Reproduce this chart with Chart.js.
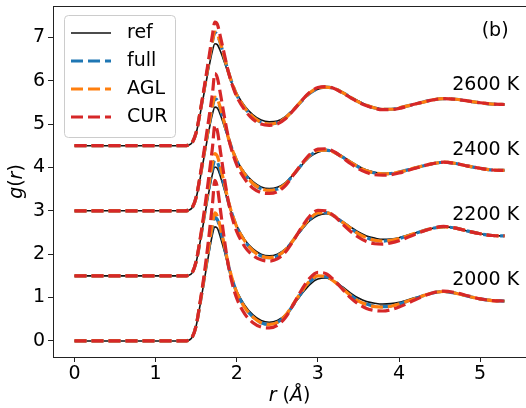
<!DOCTYPE html>
<html>
<head>
<meta charset="utf-8">
<script src="https://cdn.jsdelivr.net/npm/chart.js@4.4.1/dist/chart.umd.min.js"></script>
<style>
  html, body { margin: 0; padding: 0; background: #fff; }
  canvas { display: block; }
</style>
</head>
<body>
<canvas id="rdfChart" width="526" height="408"></canvas>
<script>
// radial grid (Angstrom), finer around the first peak
const rGrid = [0, 1.0, 1.35, 1.4, 1.45, 1.5, 1.55, 1.6, 1.65, 1.7, 1.73, 1.76, 1.8, 1.85, 1.9, 1.95, 2.0,
    2.1, 2.2, 2.3, 2.4, 2.5, 2.6, 2.7, 2.8, 2.9, 3.0, 3.1, 3.2, 3.3, 3.4, 3.5, 3.6, 3.7, 3.8, 3.9, 4.0,
    4.2, 4.4, 4.55, 4.7, 4.85, 5.0, 5.15, 5.3];

// g(r) at 2000 K
const ref2000 = [0, 0, 0, 0.01, 0.08, 0.35, 0.85, 1.4, 1.95, 2.45, 2.63, 2.6, 2.38, 2.05, 1.68, 1.38, 1.15, 0.82, 0.6, 0.47, 0.43, 0.47, 0.6, 0.83, 1.08, 1.3, 1.43, 1.45, 1.38, 1.25, 1.11, 0.99, 0.91, 0.87, 0.85, 0.86, 0.89, 1.0, 1.1, 1.14, 1.1, 1.03, 0.97, 0.93, 0.92];
const full2000 = [0, 0, 0, 0.01, 0.08, 0.36, 0.88, 1.45, 2.05, 2.62, 2.85, 2.8, 2.55, 2.15, 1.72, 1.38, 1.12, 0.77, 0.55, 0.42, 0.38, 0.43, 0.58, 0.84, 1.12, 1.36, 1.49, 1.48, 1.38, 1.22, 1.06, 0.93, 0.85, 0.8, 0.79, 0.81, 0.85, 0.98, 1.1, 1.14, 1.1, 1.03, 0.97, 0.93, 0.92];
const agl2000 = [0, 0, 0, 0.01, 0.08, 0.36, 0.9, 1.48, 2.1, 2.7, 2.95, 2.88, 2.6, 2.18, 1.74, 1.39, 1.12, 0.77, 0.55, 0.42, 0.38, 0.43, 0.59, 0.86, 1.14, 1.38, 1.5, 1.48, 1.37, 1.21, 1.05, 0.92, 0.84, 0.79, 0.78, 0.8, 0.85, 0.98, 1.1, 1.14, 1.1, 1.03, 0.97, 0.93, 0.92];
const cur2000 = [0, 0, 0, 0.01, 0.08, 0.36, 0.92, 1.55, 2.3, 3.15, 3.7, 3.55, 3.0, 2.3, 1.7, 1.28, 0.98, 0.62, 0.42, 0.32, 0.3, 0.36, 0.54, 0.85, 1.18, 1.45, 1.58, 1.55, 1.4, 1.2, 1.0, 0.85, 0.75, 0.7, 0.69, 0.72, 0.78, 0.95, 1.1, 1.15, 1.11, 1.04, 0.97, 0.93, 0.92];

// g(r) at 2200 K
const ref2200 = [0, 0, 0, 0.01, 0.07, 0.32, 0.8, 1.33, 1.87, 2.34, 2.51, 2.48, 2.28, 1.97, 1.65, 1.37, 1.15, 0.83, 0.62, 0.5, 0.46, 0.5, 0.62, 0.83, 1.06, 1.27, 1.39, 1.43, 1.38, 1.26, 1.13, 1.01, 0.92, 0.87, 0.84, 0.85, 0.88, 0.99, 1.09, 1.13, 1.1, 1.03, 0.97, 0.93, 0.92];
const full2200 = [0, 0, 0, 0.01, 0.07, 0.33, 0.82, 1.38, 1.95, 2.47, 2.66, 2.62, 2.4, 2.05, 1.68, 1.38, 1.13, 0.8, 0.58, 0.46, 0.42, 0.46, 0.6, 0.83, 1.09, 1.31, 1.44, 1.46, 1.38, 1.24, 1.1, 0.97, 0.88, 0.82, 0.8, 0.82, 0.86, 0.98, 1.09, 1.13, 1.1, 1.03, 0.97, 0.93, 0.92];
const agl2200 = [0, 0, 0, 0.01, 0.07, 0.33, 0.84, 1.42, 2.02, 2.6, 2.82, 2.76, 2.5, 2.1, 1.7, 1.38, 1.13, 0.8, 0.58, 0.46, 0.42, 0.46, 0.6, 0.83, 1.1, 1.32, 1.45, 1.46, 1.38, 1.24, 1.1, 0.97, 0.88, 0.82, 0.8, 0.82, 0.86, 0.98, 1.09, 1.13, 1.1, 1.03, 0.97, 0.93, 0.92];
const cur2200 = [0, 0, 0, 0.01, 0.07, 0.34, 0.87, 1.5, 2.2, 2.95, 3.47, 3.35, 2.85, 2.22, 1.68, 1.3, 1.02, 0.67, 0.47, 0.37, 0.34, 0.39, 0.55, 0.82, 1.12, 1.38, 1.51, 1.5, 1.38, 1.2, 1.03, 0.89, 0.79, 0.74, 0.73, 0.76, 0.81, 0.96, 1.09, 1.14, 1.1, 1.03, 0.97, 0.93, 0.92];

// g(r) at 2400 K
const ref2400 = [0, 0, 0, 0.01, 0.07, 0.3, 0.76, 1.27, 1.78, 2.23, 2.39, 2.37, 2.2, 1.92, 1.63, 1.38, 1.17, 0.87, 0.67, 0.55, 0.51, 0.54, 0.65, 0.84, 1.05, 1.24, 1.35, 1.39, 1.36, 1.26, 1.14, 1.03, 0.94, 0.89, 0.86, 0.86, 0.89, 0.99, 1.08, 1.12, 1.09, 1.03, 0.98, 0.94, 0.93];
const full2400 = [0, 0, 0, 0.01, 0.07, 0.31, 0.79, 1.33, 1.88, 2.39, 2.58, 2.55, 2.34, 2.0, 1.66, 1.38, 1.15, 0.84, 0.63, 0.51, 0.47, 0.5, 0.62, 0.83, 1.06, 1.27, 1.38, 1.4, 1.35, 1.24, 1.12, 1.01, 0.92, 0.87, 0.85, 0.86, 0.89, 0.99, 1.08, 1.12, 1.09, 1.03, 0.98, 0.94, 0.93];
const agl2400 = [0, 0, 0, 0.01, 0.07, 0.31, 0.8, 1.35, 1.91, 2.43, 2.62, 2.58, 2.36, 2.01, 1.66, 1.38, 1.15, 0.84, 0.63, 0.51, 0.47, 0.5, 0.62, 0.84, 1.07, 1.28, 1.39, 1.4, 1.35, 1.24, 1.12, 1.01, 0.92, 0.87, 0.85, 0.86, 0.89, 0.99, 1.08, 1.12, 1.09, 1.03, 0.98, 0.94, 0.93];
const cur2400 = [0, 0, 0, 0.01, 0.07, 0.32, 0.83, 1.42, 2.05, 2.7, 3.16, 3.07, 2.68, 2.14, 1.66, 1.32, 1.06, 0.73, 0.52, 0.42, 0.4, 0.44, 0.58, 0.83, 1.08, 1.3, 1.42, 1.43, 1.36, 1.23, 1.09, 0.97, 0.88, 0.83, 0.82, 0.83, 0.87, 0.98, 1.08, 1.12, 1.09, 1.03, 0.98, 0.94, 0.93];

// g(r) at 2600 K
const ref2600 = [0, 0, 0, 0.01, 0.07, 0.29, 0.74, 1.24, 1.74, 2.19, 2.35, 2.33, 2.17, 1.91, 1.64, 1.4, 1.2, 0.91, 0.71, 0.59, 0.55, 0.57, 0.67, 0.84, 1.03, 1.2, 1.3, 1.34, 1.32, 1.24, 1.13, 1.03, 0.94, 0.88, 0.85, 0.85, 0.87, 0.96, 1.05, 1.085, 1.07, 1.03, 0.99, 0.96, 0.95];
const full2600 = [0, 0, 0, 0.01, 0.07, 0.3, 0.78, 1.31, 1.86, 2.4, 2.6, 2.56, 2.35, 2.01, 1.68, 1.4, 1.17, 0.87, 0.66, 0.54, 0.5, 0.53, 0.64, 0.83, 1.03, 1.21, 1.32, 1.35, 1.32, 1.23, 1.12, 1.01, 0.93, 0.87, 0.84, 0.84, 0.87, 0.96, 1.05, 1.085, 1.07, 1.03, 0.99, 0.96, 0.95];
const agl2600 = [0, 0, 0, 0.01, 0.07, 0.3, 0.79, 1.32, 1.88, 2.42, 2.62, 2.58, 2.36, 2.02, 1.68, 1.4, 1.17, 0.87, 0.66, 0.54, 0.5, 0.53, 0.64, 0.83, 1.04, 1.22, 1.33, 1.35, 1.32, 1.23, 1.12, 1.01, 0.93, 0.87, 0.84, 0.84, 0.87, 0.96, 1.05, 1.085, 1.07, 1.03, 0.99, 0.96, 0.95];
const cur2600 = [0, 0, 0, 0.01, 0.07, 0.31, 0.8, 1.36, 1.95, 2.55, 2.85, 2.8, 2.5, 2.08, 1.68, 1.37, 1.13, 0.82, 0.61, 0.5, 0.47, 0.5, 0.62, 0.82, 1.04, 1.23, 1.34, 1.36, 1.32, 1.22, 1.11, 1.0, 0.92, 0.86, 0.83, 0.83, 0.86, 0.96, 1.05, 1.085, 1.07, 1.03, 0.99, 0.96, 0.95];

const tempLabels = ["2000 K", "2200 K", "2400 K", "2600 K"];
const offsets = [0, 1.5, 3, 4.5];
const xTicks = [0, 1, 2, 3, 4, 5];
const yTicks = [0, 1, 2, 3, 4, 5, 6, 7];

const seriesNames = ["ref", "full", "AGL", "CUR"];
const seriesData = {
    ref: [ref2000, ref2200, ref2400, ref2600],
    full: [full2000, full2200, full2400, full2600],
    AGL: [agl2000, agl2200, agl2400, agl2600],
    CUR: [cur2000, cur2200, cur2400, cur2600]
};
const seriesStyle = {
    ref: { color: "#111111", width: 1.6, dash: [] },
    full: { color: "#1f77b4", width: 3.2, dash: [12, 5] },
    AGL: { color: "#ff7f0e", width: 3.2, dash: [12, 5] },
    CUR: { color: "#d62728", width: 3.2, dash: [12, 5] }
};

const FONT_FAMILY = "'DejaVu Sans', sans-serif";
const FONT_SIZE = 19;

// first dataset is painted last, so CUR goes first to sit on top
const datasets = [];
["CUR", "AGL", "full", "ref"].forEach(name => {
    const st = seriesStyle[name];
    seriesData[name].forEach((vals, i) => {
        datasets.push({
            label: name,
            data: vals.map((g, k) => ({ x: rGrid[k], y: g + offsets[i] })),
            borderColor: st.color,
            borderWidth: st.width,
            borderDash: st.dash,
            pointRadius: 0,
            fill: false,
            cubicInterpolationMode: "monotone"
        });
    });
});

function drawMixed(ctx, parts, x, y) {
    let total = 0;
    parts.forEach(([txt, style]) => {
        ctx.font = `${style} ${FONT_SIZE}px ${FONT_FAMILY}`;
        total += ctx.measureText(txt).width;
    });
    let cx = x - total / 2;
    parts.forEach(([txt, style]) => {
        ctx.font = `${style} ${FONT_SIZE}px ${FONT_FAMILY}`;
        ctx.fillText(txt, cx, y);
        cx += ctx.measureText(txt).width;
    });
}

const overlayPlugin = {
    id: "overlay",
    afterDraw(chart) {
        const ctx = chart.ctx;
        const area = chart.chartArea;
        const xs = chart.scales.x;
        const ys = chart.scales.y;
        ctx.save();

        // top spine
        ctx.strokeStyle = "#222";
        ctx.lineWidth = 1;
        ctx.beginPath();
        ctx.moveTo(area.left, area.top + 0.5);
        ctx.lineTo(area.right, area.top + 0.5);
        ctx.stroke();

        ctx.fillStyle = "#000";
        ctx.font = `${FONT_SIZE}px ${FONT_FAMILY}`;
        ctx.textBaseline = "middle";

        // temperature labels above each curve
        ctx.textAlign = "right";
        tempLabels.forEach((t, i) => {
            ctx.fillText(t, xs.getPixelForValue(5.48), ys.getPixelForValue(offsets[i] + 1.4));
        });
        ctx.fillText("(b)", xs.getPixelForValue(5.35), ys.getPixelForValue(7.14));

        // axis titles
        ctx.textAlign = "left";
        drawMixed(ctx, [["r", "italic"], [" (", "normal"], ["Å", "italic"], [")", "normal"]],
            (area.left + area.right) / 2, 396);
        ctx.save();
        ctx.translate(17, (area.top + area.bottom) / 2);
        ctx.rotate(-Math.PI / 2);
        drawMixed(ctx, [["g", "italic"], ["(", "normal"], ["r", "italic"], [")", "normal"]], 0, 0);
        ctx.restore();

        // legend box
        const lx = 64.5, ly = 15.5, lw = 111, lh = 122, rad = 4;
        ctx.beginPath();
        ctx.roundRect(lx, ly, lw, lh, rad);
        ctx.fillStyle = "rgba(255,255,255,0.8)";
        ctx.fill();
        ctx.strokeStyle = "#cccccc";
        ctx.lineWidth = 1;
        ctx.stroke();

        seriesNames.forEach((name, i) => {
            const st = seriesStyle[name];
            const yy = 33 + i * 28;
            ctx.beginPath();
            ctx.setLineDash(st.dash);
            ctx.strokeStyle = st.color;
            ctx.lineWidth = st.width;
            ctx.moveTo(71, yy);
            ctx.lineTo(111, yy);
            ctx.stroke();
            ctx.setLineDash([]);
            ctx.fillStyle = "#000";
            ctx.font = `${FONT_SIZE}px ${FONT_FAMILY}`;
            ctx.fillText(name, 127, yy);
        });
        ctx.restore();
    }
};

new Chart(document.getElementById("rdfChart").getContext("2d"), {
    type: "line",
    data: { datasets: datasets },
    options: {
        responsive: false,
        animation: false,
        devicePixelRatio: 1,
        layout: { padding: { top: 6, right: 0, left: 0, bottom: 0 } },
        plugins: { legend: { display: false }, tooltip: { enabled: false } },
        scales: {
            x: {
                type: "linear",
                min: -0.265,
                max: 5.565,
                afterBuildTicks: s => { s.ticks = xTicks.map(v => ({ value: v })); },
                afterFit: s => { s.height = 51; s.paddingLeft = 0; s.paddingRight = 0; },
                grid: { drawOnChartArea: false, drawTicks: true, tickLength: 5, tickColor: "#222" },
                border: { display: true, color: "#222", width: 1 },
                ticks: { color: "#000", padding: 1, font: { family: FONT_FAMILY, size: FONT_SIZE } }
            },
            y: {
                type: "linear",
                min: -0.37,
                max: 7.72,
                afterBuildTicks: s => { s.ticks = yTicks.map(v => ({ value: v })); },
                afterFit: s => { s.width = 53; s.paddingTop = 0; s.paddingBottom = 0; },
                grid: { drawOnChartArea: false, drawTicks: true, tickLength: 5, tickColor: "#222" },
                border: { display: true, color: "#222", width: 1 },
                ticks: { color: "#000", padding: 3, font: { family: FONT_FAMILY, size: FONT_SIZE } }
            }
        }
    },
    plugins: [overlayPlugin]
});
</script>
</body>
</html>
